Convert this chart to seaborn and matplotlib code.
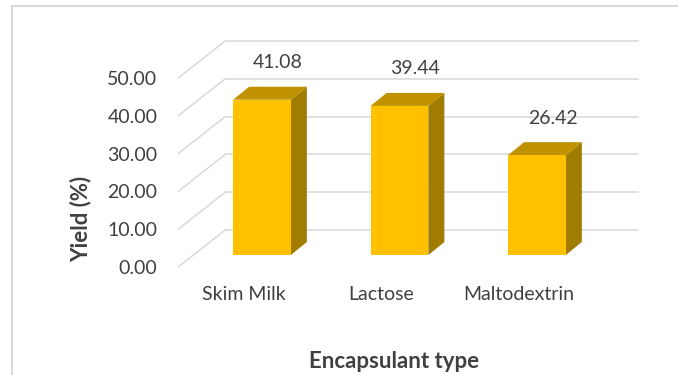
import numpy as np
import pandas as pd
import seaborn as sns
import matplotlib.pyplot as plt
from matplotlib.patches import Polygon
from matplotlib.lines import Line2D
from matplotlib.transforms import offset_copy, ScaledTranslation

# data
categories = ["Skim Milk", "Lactose", "Maltodextrin"]
yields = [41.08, 39.44, 26.42]
yticks = [0, 10, 20, 30, 40, 50]

sns.set_theme(style="white")
plt.rcParams["font.family"] = ["Lato", "DejaVu Sans"]

text_col = "#404040"
grid_col = "#d9d9d9"
face_col = "#FFC000"
top_col = "#C09200"
side_col = "#A07C00"

df = pd.DataFrame({"Encapsulant": categories, "Yield": yields})

fig = plt.figure(figsize=(6.78, 3.75), dpi=100)
ax = fig.add_axes([0.285, 0.32, 0.6084, 0.504])

sns.barplot(data=df, x="Encapsulant", y="Yield", color=face_col, saturation=1,
            width=0.42, ax=ax, zorder=3, edgecolor="none")
ax.set_xlim(-0.5, 2.5)
ax.set_ylim(0, 50)


def px(dx, dy):
    # pixel offset -> data units
    inv = ax.transData.inverted()
    x0, y0 = inv.transform((0, 0))
    x1, y1 = inv.transform((dx, dy))
    return x1 - x0, y1 - y0


# back wall and side wall grid lines
back_dx, back_dy = px(32, 25)
front_dx, front_dy = px(-15, -12)
for t in yticks:
    ax.plot([-0.5 + back_dx, 2.5 + back_dx], [t + back_dy, t + back_dy],
            color=grid_col, lw=1.1, clip_on=False, zorder=0)
    ax.plot([-0.5 + front_dx, -0.5 + back_dx], [t + front_dy, t + back_dy],
            color=grid_col, lw=1.1, clip_on=False, zorder=0)

# 3d look: side and top faces of each bar
ddx, ddy = px(16, 13)
_, lab_dy = px(0, 24)
for p in list(ax.patches):
    x0, w, h = p.get_x(), p.get_width(), p.get_height()
    side = Polygon([(x0 + w, 0), (x0 + w + ddx, ddy), (x0 + w + ddx, h + ddy), (x0 + w, h)],
                   closed=True, facecolor=side_col, edgecolor="none", zorder=2, clip_on=False)
    top = Polygon([(x0, h), (x0 + w, h), (x0 + w + ddx, h + ddy), (x0 + ddx, h + ddy)],
                  closed=True, facecolor=top_col, edgecolor="none", zorder=2, clip_on=False)
    ax.add_patch(side)
    ax.add_patch(top)
    ax.text(x0 + w / 2 + ddx, h + ddy + lab_dy, f"{h:.2f}", ha="center", va="center",
            fontsize=14, color=text_col, clip_on=False)

# ticks
ax.set_yticks(yticks)
ax.set_yticklabels([f"{t:.2f}" for t in yticks])
ax.tick_params(axis="y", length=0, pad=15, labelsize=14, labelcolor=text_col)
ax.tick_params(axis="x", length=0, pad=22, labelsize=14, labelcolor=text_col)
for tk in ax.yaxis.get_major_ticks():
    tk.label1.set_transform(tk.label1.get_transform()
                            + ScaledTranslation(-15 / 100, -12 / 100, fig.dpi_scale_trans))
for tk in ax.xaxis.get_major_ticks():
    tk.label1.set_transform(tk.label1.get_transform()
                            + ScaledTranslation(-18 / 100, 0, fig.dpi_scale_trans))

for s in ax.spines.values():
    s.set_visible(False)
ax.set_facecolor("none")

ax.set_xlabel("Encapsulant type", fontsize=16, fontweight="bold", color=text_col, va="center")
ax.set_ylabel("Yield (%)", fontsize=16, fontweight="bold", color=text_col, va="center")
ax.xaxis.set_label_coords(0.4867, -0.566)
ax.yaxis.set_label_coords(-0.272, 0.19)

# chart area border (cropped at right and bottom)
fig.add_artist(Line2D([12 / 678, 1], [1 - 6 / 375, 1 - 6 / 375], transform=fig.transFigure,
                      color=grid_col, lw=1.5))
fig.add_artist(Line2D([12 / 678, 12 / 678], [0, 1 - 6 / 375], transform=fig.transFigure,
                      color=grid_col, lw=1.5))

fig.savefig("out.png", dpi=100)
